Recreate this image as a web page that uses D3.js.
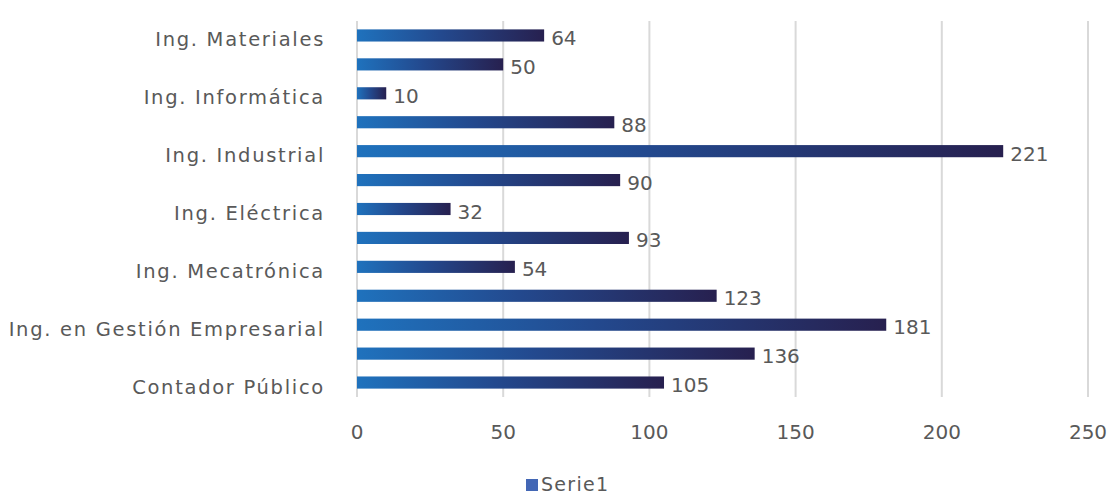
<!DOCTYPE html>
<html>
<head>
<meta charset="utf-8">
<script src="https://cdn.jsdelivr.net/npm/d3@7"></script>
<style>
  html, body { margin: 0; background: #fff; overflow: hidden; }
  svg { display: block; font-family: "DejaVu Sans", "Open Sans", sans-serif; }
</style>
</head>
<body>
<svg width="1110" height="495"></svg>
<script>
const svg = d3.select("svg");
const width = 1110;
const height = 495;

// data, top to bottom as in the picture
const categories = [
  "Ing. Materiales", "Ing. Mecánica", "Ing. Informática", "Ing. Sistemas Computacionales",
  "Ing. Industrial", "Ing. Electrónica", "Ing. Eléctrica", "Ing. Química",
  "Ing. Mecatrónica", "Ing. Logística", "Ing. en Gestión Empresarial", "Arquitectura",
  "Contador Público"
];
const values = [64, 50, 10, 88, 221, 90, 32, 93, 54, 123, 181, 136, 105];
const xTicks = [0, 50, 100, 150, 200, 250];
const seriesName = "Serie1";

const margin = { top: 21, right: 22, bottom: 98, left: 357 };
const innerWidth = width - margin.left - margin.right;
const innerHeight = height - margin.top - margin.bottom;

const textColor = '#595959';
const gridColor = '#d9d9d9';

const xScale = d3.scaleLinear()
  .domain([0, 250])
  .range([0, innerWidth]);

const yScale = d3.scaleBand()
  .domain(categories)
  .range([0, innerHeight])
  .paddingInner(0.58)
  .paddingOuter(0.29);

// gradient for each bar, light blue on the left to navy on the right
const defs = svg.append('defs');
const grad = defs.append('linearGradient')
  .attr('id', 'barGrad')
  .attr('x1', '0%').attr('x2', '100%')
  .attr('y1', '0%').attr('y2', '0%');
grad.append('stop').attr('offset', '0%').attr('stop-color', '#1f72bd');
grad.append('stop').attr('offset', '45%').attr('stop-color', '#23498e');
grad.append('stop').attr('offset', '100%').attr('stop-color', '#27204f');

const g = svg.append('g')
  .attr('transform', `translate(${margin.left},${margin.top})`);

// vertical gridlines
g.append('g').selectAll('line').data(xTicks)
  .enter().append('line')
    .attr('x1', d => xScale(d))
    .attr('x2', d => xScale(d))
    .attr('y1', 0)
    .attr('y2', innerHeight)
    .attr('stroke', gridColor)
    .attr('stroke-width', 2);

// x tick labels
g.append('g').selectAll('text').data(xTicks)
  .enter().append('text')
    .attr('x', d => xScale(d))
    .attr('y', innerHeight + 42)
    .attr('text-anchor', 'middle')
    .attr('font-size', 20)
    .attr('fill', textColor)
    .text(d => d);

// category labels, only every other one is shown (as in the picture)
const shownCats = categories.filter((d, i) => i % 2 === 0);
g.append('g').selectAll('text').data(shownCats)
  .enter().append('text')
    .attr('x', -32)
    .attr('y', d => yScale(d) + yScale.bandwidth() / 2 + 11)
    .attr('text-anchor', 'end')
    .attr('font-size', 19.5)
    .attr('letter-spacing', 1.7)
    .attr('fill', textColor)
    .text(d => d);

// bars
g.append('g').selectAll('rect').data(values)
  .enter().append('rect')
    .attr('x', xScale(0))
    .attr('y', (d, i) => yScale(categories[i]))
    .attr('width', d => xScale(d) - xScale(0))
    .attr('height', yScale.bandwidth())
    .attr('fill', 'url(#barGrad)');

// value labels
g.append('g').selectAll('text').data(values)
  .enter().append('text')
    .attr('x', d => xScale(d) + 7)
    .attr('y', (d, i) => yScale(categories[i]) + yScale.bandwidth() / 2 + 9.5)
    .attr('font-size', 20)
    .attr('fill', textColor)
    .text(d => d);

// legend
const legend = svg.append('g')
  .attr('transform', `translate(526, 479)`);
legend.append('rect')
  .attr('width', 12)
  .attr('height', 12)
  .attr('fill', '#4367b5');
legend.append('text')
  .text(seriesName)
  .attr('x', 15)
  .attr('y', 12)
  .attr('font-size', 19)
  .attr('letter-spacing', 1.3)
  .attr('fill', textColor);
</script>
</body>
</html>
